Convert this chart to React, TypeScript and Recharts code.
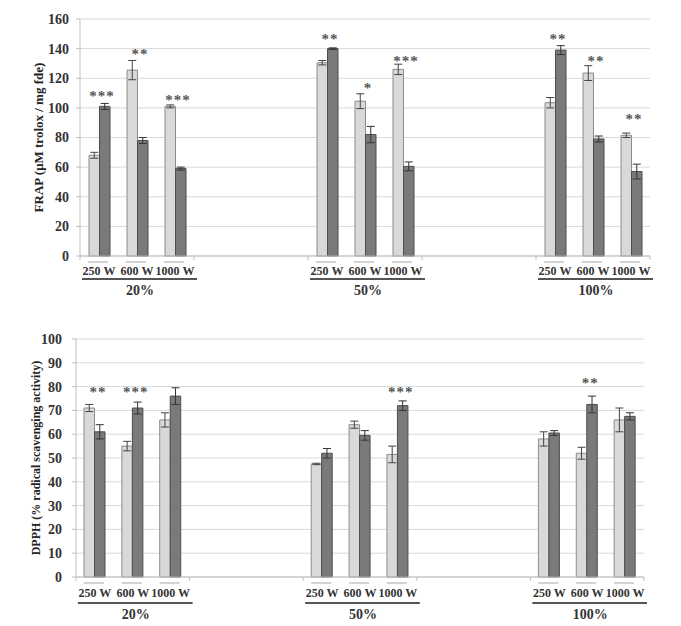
import React from 'react';
import {
  ComposedChart,
  Bar,
  Scatter,
  ErrorBar,
  XAxis,
  YAxis,
  CartesianGrid,
  Label,
} from 'recharts';

const POWERS = ['250 W', '600 W', '1000 W'];
const GROUPS = ['20%', '50%', '100%'];

// FRAP (top chart), order: 20% x3, 50% x3, 100% x3
const frapLight = [68, 125.5, 101, 130.5, 104.5, 126, 103.5, 123.5, 81.5];
const frapLightErr = [2, 6.5, 1, 1.5, 5, 3.5, 3.5, 5, 1.5];
const frapDark = [101, 78, 59, 140, 82, 60.5, 139, 79, 57];
const frapDarkErr = [2, 2, 1, 0.5, 5.5, 3, 3, 2, 5];
const frapStars = ['***', '**', '***', '**', '*', '***', '**', '**', '**'];
const frapStarY = [109, 137, 106, 147, 114, 132.5, 147, 132, 93];

// DPPH (bottom chart)
const dpphLight = [71, 55, 66, 47.5, 64, 51.5, 58, 52, 66];
const dpphLightErr = [1.5, 2, 3, 0.3, 1.5, 3.5, 3, 2.5, 5];
const dpphDark = [61, 71, 76, 52, 59.5, 72, 60.5, 72.5, 67.5];
const dpphDarkErr = [3, 2.5, 3.5, 2, 2, 2, 1, 3.5, 1.5];
const dpphStars = ['**', '***', '', '', '', '***', '', '**', ''];
const dpphStarY = [78, 78, null, null, null, 78, null, 82, null];

const frapTicks = [0, 20, 40, 60, 80, 100, 120, 140, 160];
const dpphTicks = [0, 10, 20, 30, 40, 50, 60, 70, 80, 90, 100];

const SERIF = '"Liberation Serif", "Times New Roman", serif';
const LIGHT = '#d9d9d9';
const DARK = '#7a7a7a';

function buildRows(light, lightErr, dark, darkErr, stars, starY) {
  const rows: any[] = [];
  GROUPS.forEach((g, gi) => {
    POWERS.forEach((p, pi) => {
      const i = gi * 3 + pi;
      rows.push({
        slot: `${g}-${p}`,
        label: p,
        group: pi === 1 ? g : '',
        light: light[i],
        lightErr: lightErr[i],
        dark: dark[i],
        darkErr: darkErr[i],
        stars: stars[i],
        starY: starY[i],
      });
    });
    if (gi < GROUPS.length - 1) {
      for (let k = 0; k < 3; k++) rows.push({ slot: `gap-${gi}-${k}`, label: '', group: '' });
    }
  });
  return rows;
}

const frapRows = buildRows(frapLight, frapLightErr, frapDark, frapDarkErr, frapStars, frapStarY);
const dpphRows = buildRows(dpphLight, dpphLightErr, dpphDark, dpphDarkErr, dpphStars, dpphStarY);

const makeTick = (rows, o) => (props) => {
  const { x, y, index, width } = props;
  const row = rows[index];
  const bw = width ? width / rows.length : 38;
  return (
    <g>
      {index % 3 === 0 && (
        <line x1={x - bw / 2} x2={x - bw / 2} y1={y} y2={y + 4} stroke="#bfbfbf" />
      )}
      {index === rows.length - 1 && (
        <line x1={x + bw / 2} x2={x + bw / 2} y1={y} y2={y + 4} stroke="#bfbfbf" />
      )}
      {row.label && (
        <line x1={x - 11} x2={x + 9} y1={y + o.gray} y2={y + o.gray} stroke="#c4c4c4" strokeWidth={1.5} />
      )}
      {row.label && (
        <text x={x} y={y + o.text} textAnchor="middle" fontFamily={SERIF} fontWeight="bold" fontSize={12} fill="#333">
          {row.label}
        </text>
      )}
      {row.group && (
        <line
          x1={x - 1.5 * bw + 2}
          x2={x + 1.5 * bw + 3}
          y1={y + o.dark}
          y2={y + o.dark}
          stroke="#555"
          strokeWidth={2}
        />
      )}
      {row.group && (
        <text x={x + 3} y={y + o.group} textAnchor="middle" fontFamily={SERIF} fontWeight="bold" fontSize={14} fill="#333">
          {row.group}
        </text>
      )}
    </g>
  );
};

const renderStar = (props) => {
  const { cx, cy, payload } = props;
  if (!payload || !payload.stars || cy == null || isNaN(cy)) return <g />;
  return (
    <text
      x={cx + 3}
      y={cy + 6}
      textAnchor="middle"
      fontFamily={SERIF}
      fontWeight="bold"
      fontSize={15}
      letterSpacing={1}
      fill="#555"
    >
      {payload.stars}
    </text>
  );
};

function Panel({ rows, width, height, margin, yWidth, domain, ticks, title, titleSize, xHeight, offsets, tickMargin }) {
  return (
    <ComposedChart width={width} height={height} data={rows} margin={margin} barGap={0} barSize={10.5}>
      <CartesianGrid vertical={false} stroke="#d9d9d9" />
      <XAxis
        dataKey="slot"
        interval={0}
        tickLine={false}
        tickSize={0}
        tickMargin={0}
        height={xHeight}
        axisLine={{ stroke: '#bfbfbf' }}
        tick={makeTick(rows, offsets)}
      />
      <YAxis
        width={yWidth}
        domain={domain}
        ticks={ticks}
        interval={0}
        tickSize={4}
        tickMargin={tickMargin}
        axisLine={{ stroke: '#bfbfbf' }}
        tickLine={{ stroke: '#bfbfbf' }}
        tick={{ fontFamily: SERIF, fontWeight: 'bold', fontSize: 14, fill: '#333' }}
      >
        <Label
          value={title}
          angle={-90}
          position="center"
          dx={-2}
          style={{ fontFamily: SERIF, fontWeight: 'bold', fontSize: titleSize, fill: '#222' }}
        />
      </YAxis>
      <Bar dataKey="light" fill={LIGHT} stroke="#8c8c8c" strokeWidth={1} isAnimationActive={false}>
        <ErrorBar dataKey="lightErr" width={4} stroke="#444" strokeWidth={1} direction="y" />
      </Bar>
      <Bar dataKey="dark" fill={DARK} stroke="#4d4d4d" strokeWidth={1} isAnimationActive={false}>
        <ErrorBar dataKey="darkErr" width={4} stroke="#333" strokeWidth={1} direction="y" />
      </Bar>
      <Scatter dataKey="starY" shape={renderStar} isAnimationActive={false} legendType="none" />
    </ComposedChart>
  );
}

export default function App() {
  return (
    <div style={{ position: 'relative', width: 681, height: 626, background: '#fff' }}>
      <style>{'body{margin:0}'}</style>
      <div style={{ position: 'absolute', left: 0, top: 0 }}>
        <Panel
          rows={frapRows}
          width={681}
          height={315}
          margin={{ top: 19, right: 31, bottom: 0, left: 0 }}
          yWidth={80}
          domain={[0, 160]}
          ticks={frapTicks}
          title="FRAP (μM trolox / mg fde)"
          titleSize={13}
          xHeight={59}
          offsets={{ gray: 6, text: 19, dark: 23, group: 39 }}
          tickMargin={7}
        />
      </div>
      <div style={{ position: 'absolute', left: 0, top: 315 }}>
        <Panel
          rows={dpphRows}
          width={681}
          height={311}
          margin={{ top: 24, right: 37, bottom: 0, left: 0 }}
          yWidth={76}
          domain={[0, 100]}
          ticks={dpphTicks}
          title="DPPH (% radical scavenging activity)"
          titleSize={12}
          xHeight={49}
          offsets={{ gray: 6, text: 20, dark: 26, group: 42 }}
          tickMargin={10}
        />
      </div>
    </div>
  );
}
